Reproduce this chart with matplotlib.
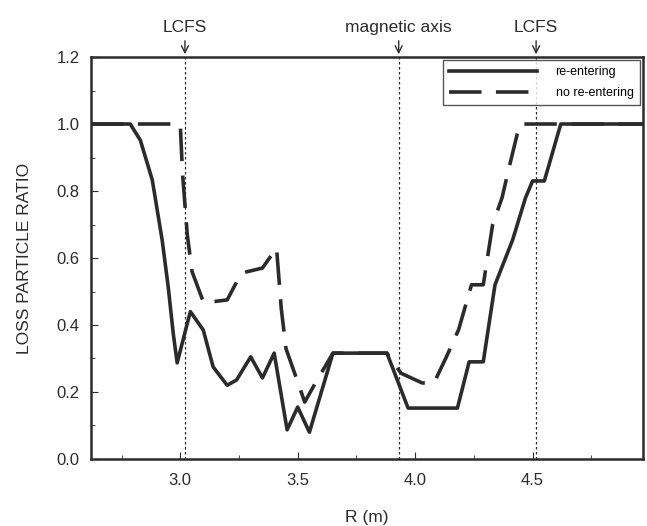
import numpy as np
import matplotlib.pyplot as plt
from matplotlib.ticker import MultipleLocator

plt.rcParams['font.family'] = ['Liberation Sans', 'DejaVu Sans']

# re-entering (solid)
r_re = [2.62, 2.787, 2.83, 2.881, 2.923, 2.949, 2.97, 2.987, 3.043, 3.098, 3.14, 3.20,
        3.24, 3.30, 3.35, 3.40, 3.455, 3.50, 3.55, 3.65, 3.88, 3.97, 4.18, 4.23, 4.29,
        4.34, 4.415, 4.47, 4.50, 4.55, 4.62, 4.97]
loss_re = [1.0, 1.0, 0.952, 0.833, 0.654, 0.513, 0.376, 0.287, 0.44, 0.385, 0.275, 0.22,
           0.236, 0.305, 0.242, 0.316, 0.087, 0.155, 0.08, 0.316, 0.316, 0.152, 0.152, 0.29, 0.29,
           0.52, 0.654, 0.78, 0.83, 0.83, 1.0, 1.0]

# no re-entering (dashed)
r_no = [2.62, 3.0, 3.01, 3.03, 3.05, 3.10, 3.20, 3.26, 3.35, 3.41, 3.43, 3.45, 3.49,
        3.53, 3.57, 3.65, 3.88, 3.94, 4.03, 4.08, 4.13, 4.185, 4.24, 4.29, 4.33, 4.37,
        4.40, 4.445, 4.50, 4.62, 4.97]
loss_no = [1.0, 1.0, 0.85, 0.67, 0.56, 0.466, 0.475, 0.555, 0.57, 0.63, 0.45, 0.33, 0.25,
           0.17, 0.22, 0.316, 0.316, 0.256, 0.227, 0.227, 0.30, 0.386, 0.52, 0.52, 0.70, 0.78,
           0.87, 1.0, 1.0, 1.0, 1.0]

markers = [3.02, 3.93, 4.515]
marker_labels = ["LCFS", "magnetic axis", "LCFS"]

fig = plt.figure(figsize=(6.47, 5.26), dpi=100)
ax = fig.add_axes([0.1406, 0.1274, 0.8532, 0.7642])

ink = "#2b2b2b"
ax.plot(r_re, loss_re, color=ink, lw=2.6, label="re-entering")
ax.plot(r_no, loss_no, color=ink, lw=2.6, dashes=(9, 4), label="no re-entering")

for xm, lab in zip(markers, marker_labels):
    ax.axvline(xm, color=ink, lw=0.9, ls=(0, (2, 2)))
    ax.annotate(lab, xy=(xm, 1.2), xytext=(xm, 1.265), textcoords="data",
                ha="center", va="bottom", fontsize=12.5, color=ink, annotation_clip=False,
                arrowprops=dict(arrowstyle="->", color=ink, lw=1.0))

ax.set_xlim(2.62, 4.97)
ax.set_ylim(0.0, 1.2)
ax.xaxis.set_major_locator(MultipleLocator(0.5))
ax.xaxis.set_minor_locator(MultipleLocator(0.25))
ax.yaxis.set_major_locator(MultipleLocator(0.2))
ax.yaxis.set_minor_locator(MultipleLocator(0.1))
ax.xaxis.set_major_formatter(plt.FormatStrFormatter("%.1f"))
ax.yaxis.set_major_formatter(plt.FormatStrFormatter("%.1f"))
ax.tick_params(which="both", direction="in", colors=ink, labelsize=12)
ax.tick_params(axis="x", pad=10)
ax.tick_params(axis="y", pad=8)
ax.tick_params(which="major", length=5)
ax.tick_params(which="minor", length=3)
for s in ax.spines.values():
    s.set_linewidth(1.8)
    s.set_color(ink)

ax.set_xlabel("R (m)", fontsize=12.5, color=ink, labelpad=16)
ax.set_ylabel("LOSS PARTICLE RATIO", fontsize=12.5, color=ink, labelpad=18)

leg = ax.legend(loc="upper right", fontsize=9, handlelength=7, frameon=True,
                fancybox=False, edgecolor=ink, borderaxespad=0.25, labelspacing=0.7,
                handletextpad=1.5, borderpad=0.5)
leg.get_frame().set_linewidth(1.0)

fig.savefig("out.png", dpi=100)
